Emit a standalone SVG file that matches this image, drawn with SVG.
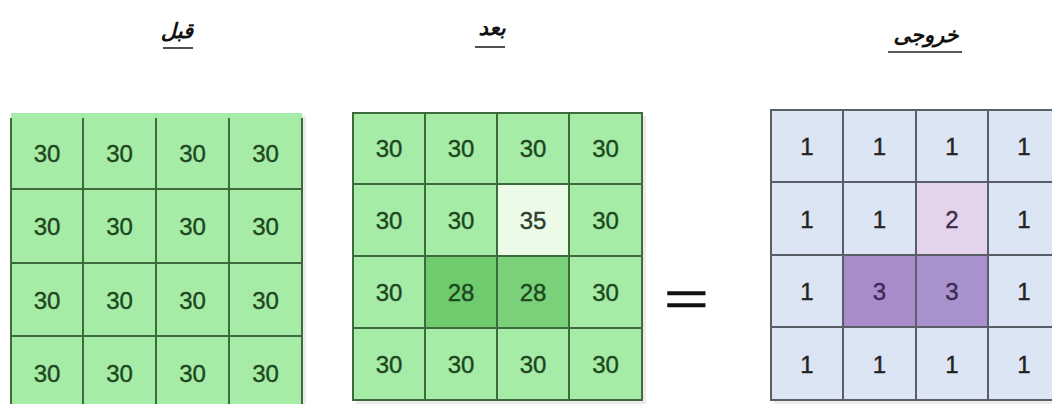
<svg xmlns="http://www.w3.org/2000/svg" width="1052" height="404" viewBox="0 0 1052 404">
<style>
.g{fill:#a6eca6}
.gl{stroke:#3e6b3e;stroke-width:2;fill:none}
.pl{stroke:#5a5e66;stroke-width:2;fill:none}
.b{fill:#dce5f3}
.n{font-family:"Liberation Sans",Arial,sans-serif;font-size:24px;text-anchor:middle;stroke-width:0.4px}
.ng{fill:#1e471e;stroke:#1e471e}
.np{fill:#222;stroke:#222}
.t{font-family:"DejaVu Sans",sans-serif;font-size:21px;font-style:italic;font-weight:bold;text-anchor:middle;fill:#111}
.u{stroke:#222;stroke-width:1.6}
.sh{fill:#000;opacity:0.08}
</style>
<g id="titles">
<text class="t" x="177" y="38">قبل</text>
<line class="u" x1="163" y1="48" x2="193" y2="48"/>
<text class="t" x="492" y="35">بعد</text>
<line class="u" x1="475" y1="47" x2="505" y2="47"/>
<text class="t" x="926" y="42">خروجی</text>
<line class="u" x1="888" y1="52" x2="962" y2="52"/>
</g>
<g id="before">
<rect class="sh" x="14" y="116" width="292" height="300"/>
<rect class="g" x="11" y="113" width="291" height="300"/>
<path class="gl" d="M11 118V404M83 118V404M156 118V404M229 118V404M302 118V404M11 189H302M11 263H302M11 336H302"/>
<g class="n ng">
<text x="47" y="162">30</text><text x="119.5" y="162">30</text><text x="192.5" y="162">30</text><text x="265.5" y="162">30</text>
<text x="47" y="235">30</text><text x="119.5" y="235">30</text><text x="192.5" y="235">30</text><text x="265.5" y="235">30</text>
<text x="47" y="309">30</text><text x="119.5" y="309">30</text><text x="192.5" y="309">30</text><text x="265.5" y="309">30</text>
<text x="47" y="382">30</text><text x="119.5" y="382">30</text><text x="192.5" y="382">30</text><text x="265.5" y="382">30</text>
</g>
</g>
<g id="after">
<rect class="sh" x="356" y="116" width="290" height="288"/>
<rect class="g" x="353" y="113" width="289" height="287"/>
<rect x="497" y="184" width="72" height="72" fill="#ebfbe7"/>
<rect x="425" y="256" width="72" height="72" fill="#6ecb6e"/>
<rect x="497" y="256" width="72" height="72" fill="#79d179"/>
<path class="gl" d="M353 113H642V400H353ZM425 113V400M497 113V400M569 113V400M353 184H642M353 256H642M353 328H642"/>
<g class="n ng">
<text x="389" y="157">30</text><text x="461" y="157">30</text><text x="533" y="157">30</text><text x="605.5" y="157">30</text>
<text x="389" y="229">30</text><text x="461" y="229">30</text><text x="533" y="229" fill="#2e3e2e" stroke="#2e3e2e">35</text><text x="605.5" y="229">30</text>
<text x="389" y="301">30</text><text x="461" y="301">28</text><text x="533" y="301">28</text><text x="605.5" y="301">30</text>
<text x="389" y="373">30</text><text x="461" y="373">30</text><text x="533" y="373">30</text><text x="605.5" y="373">30</text>
</g>
</g>
<g id="equals">
<text x="429" y="315" font-family="Liberation Sans,Arial,sans-serif" font-size="48" fill="#111" stroke="#111" stroke-width="0.5" text-anchor="middle" transform="scale(1.6,1)">=</text>
</g>
<g id="output">
<rect class="sh" x="774" y="113" width="290" height="291"/>
<rect class="b" x="771" y="110" width="290" height="290"/>
<rect x="916" y="182" width="72" height="73" fill="#e4d4eb"/>
<rect x="843" y="255" width="73" height="72" fill="#a88cca"/>
<rect x="916" y="255" width="72" height="72" fill="#a891cc"/>
<path class="pl" d="M1061 110H771V400H1061M843 110V400M916 110V400M988 110V400M771 182H1061M771 255H1061M771 327H1061"/>
<g class="n np">
<text x="807" y="155">1</text><text x="879.5" y="155">1</text><text x="952" y="155">1</text><text x="1024" y="155">1</text>
<text x="807" y="228">1</text><text x="879.5" y="228">1</text><text x="952" y="228" fill="#3a2e4a" stroke="#3a2e4a">2</text><text x="1024" y="228">1</text>
<text x="807" y="300">1</text><text x="879.5" y="300" fill="#3a2a55" stroke="#3a2a55">3</text><text x="952" y="300" fill="#3a2a55" stroke="#3a2a55">3</text><text x="1024" y="300">1</text>
<text x="807" y="373">1</text><text x="879.5" y="373">1</text><text x="952" y="373">1</text><text x="1024" y="373">1</text>
</g>
</g>
</svg>
